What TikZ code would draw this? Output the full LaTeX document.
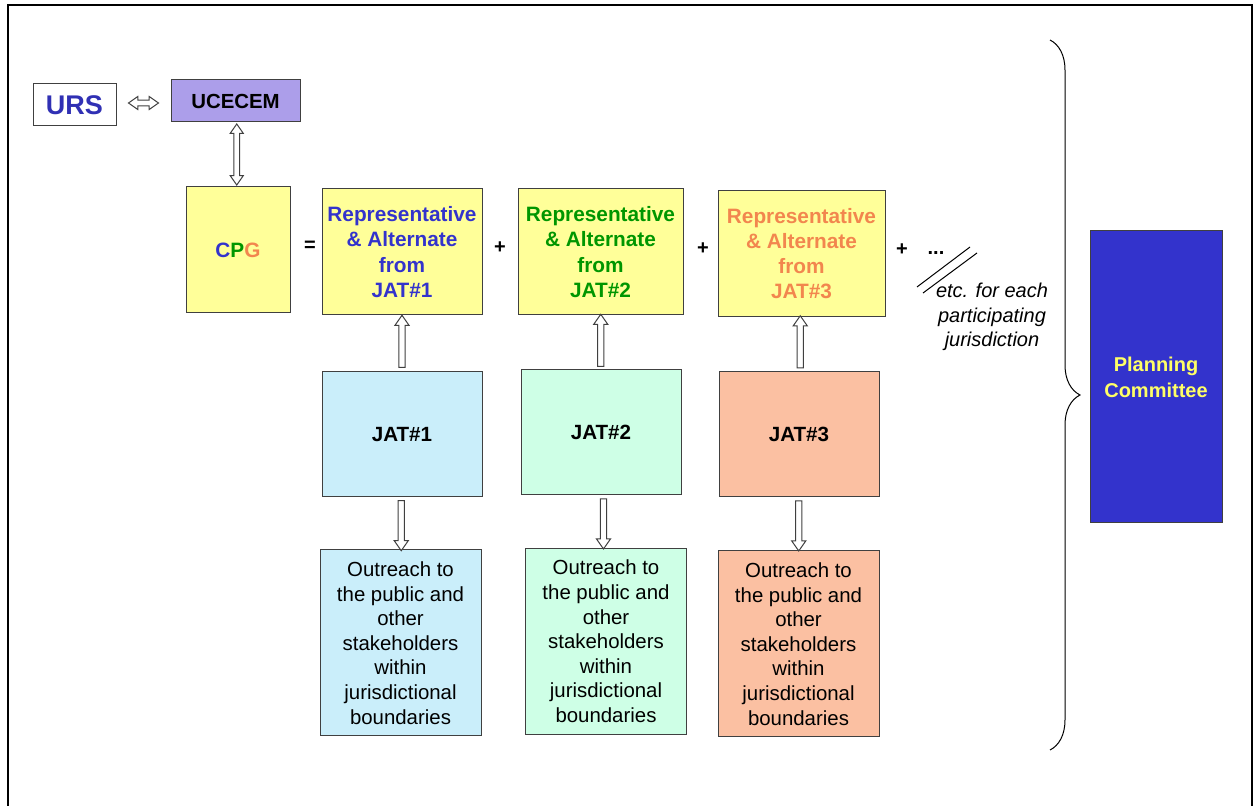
\documentclass[tikz,border=0pt]{standalone}
\usepackage{fontspec}
\setmainfont{Liberation Sans}
\usetikzlibrary{shapes.arrows,decorations.pathreplacing}

\definecolor{txtblue}{RGB}{51,51,204}
\definecolor{ursblue}{RGB}{48,48,180}
\definecolor{txtgreen}{RGB}{0,150,0}
\definecolor{txtorange}{RGB}{242,134,78}
\definecolor{boxyellow}{RGB}{255,255,153}
\definecolor{boxpurple}{RGB}{172,158,234}
\definecolor{jatblue}{RGB}{202,238,250}
\definecolor{jatgreen}{RGB}{206,255,230}
\definecolor{jatsalmon}{RGB}{251,192,162}
\definecolor{planblue}{RGB}{51,51,204}
\definecolor{planyellow}{RGB}{255,255,102}

\tikzset{
  box/.style={draw=black!75, line width=0.5pt, inner sep=1pt, align=center},
  repbox/.style={box, fill=boxyellow, minimum width=80pt, minimum height=63pt,
    font=\bfseries\fontsize{10.4}{12.6}\selectfont},
  jatbox/.style={box, minimum width=80pt, minimum height=62.5pt,
    font=\bfseries\fontsize{10.3}{12}\selectfont},
  outbox/.style={box, minimum width=80.5pt, minimum height=93pt,
    font=\fontsize{10.2}{12.3}\selectfont},
  sign/.style={inner sep=0pt, font=\bfseries\fontsize{10}{12}\selectfont},
  hollowarr/.style={single arrow, draw=black!75, fill=white, line width=0.5pt,
    single arrow head extend=2pt, single arrow tip angle=70, inner sep=1.3pt},
  hollowdbl/.style={double arrow, draw=black!75, fill=white, line width=0.5pt,
    double arrow head extend=1.8pt, double arrow tip angle=70, inner sep=1.2pt}
}

\begin{document}
\begin{tikzpicture}[x=0.5pt,y=-0.5pt]
\useasboundingbox (0,0) rectangle (1254,806);

%Frame
\draw [line width=1pt] (8,806) -- (8,5) -- (1252,5) -- (1252,806);

%Top row
\node (urs) [box, minimum width=41.5pt, minimum height=21pt, text=ursblue,
  font=\bfseries\fontsize{13.5}{15}\selectfont] at (74.5,105) {URS};
\node (ucecem) [box, fill=boxpurple, minimum width=64.5pt, minimum height=21pt,
  font=\bfseries\fontsize{10.2}{12}\selectfont] at (235.5,101) {UCECEM};
\node (cpg) [repbox, minimum width=52pt] at (238,250)
  {\textcolor{txtblue}{C}\textcolor{txtgreen}{P}\textcolor{txtorange}{G}};

%Representatives
\node (rep1) [repbox, text=txtblue] at (402,252) {Representative\\\& Alternate\\from\\JAT\#1};
\node (rep2) [repbox, minimum width=82.5pt, text=txtgreen] at (600.5,252) {Representative\\\& Alternate\\from\\JAT\#2};
\node (rep3) [repbox, minimum width=83.5pt, text=txtorange] at (801.5,253.5) {Representative\\\& Alternate\\from\\JAT\#3};

% Text Node
\node (eq) [sign] at (310,246) {=};
\node (plus1) [sign] at (500,248) {+};
\node (plus2) [sign] at (703,249) {+};
\node (plus3) [sign] at (902,250) {+};
\node (dots) [sign] at (936,253) {...};
\draw [line width=0.5pt] (917,287) -- (970,247);
\draw [line width=0.5pt] (923,293) -- (977,253);
\node (etc) [inner sep=0pt, align=center, font=\itshape\fontsize{10}{12.3}\selectfont]
  at (992,317) {etc. for each\\participating\\jurisdiction};

%JAT boxes
\node (jat1) [jatbox, fill=jatblue] at (402,434.5) {JAT\#1};
\node (jat2) [jatbox, fill=jatgreen] at (601,432.5) {JAT\#2};
\node (jat3) [jatbox, fill=jatsalmon] at (799,434) {JAT\#3};

%Outreach boxes
\node (out1) [outbox, fill=jatblue] at (400.5,643) {Outreach to\\the public and\\other\\stakeholders\\within\\jurisdictional\\boundaries};
\node (out2) [outbox, fill=jatgreen] at (606,641.5) {Outreach to\\the public and\\other\\stakeholders\\within\\jurisdictional\\boundaries};
\node (out3) [outbox, fill=jatsalmon] at (798.5,644) {Outreach to\\the public and\\other\\stakeholders\\within\\jurisdictional\\boundaries};

%Planning Committee
\node (plan) [box, fill=planblue, text=planyellow, minimum width=66pt, minimum height=146pt,
  font=\bfseries\fontsize{10}{13}\selectfont] at (1156,377) {Planning\\Committee};

%Brace
\draw [line width=0.5pt, decorate, decoration={brace, amplitude=15pt}] (1050,40) -- (1050,750);

%Arrows
\path (urs.east) -- (ucecem.west) node [midway, hollowdbl, minimum height=15pt] {};
\path (ucecem.south) -- (cpg.north) node [midway, hollowdbl, rotate=90, minimum height=30.5pt] {};
\foreach \i in {1,2,3} {
  \path (jat\i.north) -- (rep\i.south) node [midway, hollowarr, rotate=90, minimum height=26pt] {};
  \path (jat\i.south) -- (out\i.north) node [midway, hollowarr, rotate=-90, minimum height=25pt] {};
}

\end{tikzpicture}
\end{document}
